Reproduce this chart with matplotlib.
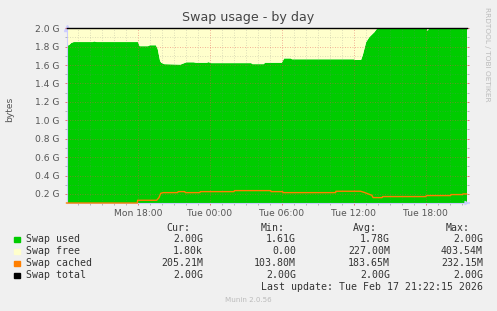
import matplotlib
matplotlib.use('Agg')
import matplotlib.pyplot as plt
from matplotlib.patches import Rectangle

# hours counted from Mon 00:00, values in GiB
used_hours = [12.04, 12.2, 12.4, 12.6, 14.2, 14.3, 14.5, 17.95, 18.1, 18.8, 18.95,
              19.45, 19.6, 19.8, 19.9, 20.15, 21.5, 22.0, 22.6, 22.8, 23.7, 23.85,
              24.05, 27.4, 27.5, 28.45, 28.55, 29.95, 30.15, 30.7, 30.8, 36.0, 36.05,
              36.56, 36.7, 36.98, 37.25, 37.67, 37.89, 42.05, 42.12, 42.2, 45.39]
used = [1.82, 1.82, 1.845, 1.855, 1.855, 1.862, 1.855, 1.855, 1.81, 1.81, 1.82,
        1.82, 1.78, 1.65, 1.63, 1.615, 1.61, 1.635, 1.635, 1.63, 1.63, 1.637,
        1.626, 1.626, 1.615, 1.615, 1.63, 1.63, 1.677, 1.677, 1.668, 1.668, 1.661,
        1.661, 1.71, 1.853, 1.908, 1.962, 2.0, 2.0, 1.975, 2.0, 2.0]

cached_hours = [12.04, 17.95, 17.97, 19.56, 19.75, 19.9, 20.1, 21.3, 21.35, 21.9,
                21.95, 23.15, 23.2, 26.0, 26.05, 29.06, 29.1, 30.06, 30.1, 34.48,
                34.5, 36.56, 36.9, 37.2, 37.5, 37.6, 38.35, 38.4, 42.0, 42.05, 44.06,
                44.1, 45.05, 45.1, 45.39]
cached = [0.1014, 0.1014, 0.131, 0.131, 0.16, 0.207, 0.214, 0.214, 0.225, 0.225,
          0.214, 0.214, 0.225, 0.225, 0.236, 0.236, 0.225, 0.225, 0.214, 0.214,
          0.229, 0.229, 0.215, 0.2, 0.185, 0.16, 0.16, 0.171, 0.171, 0.182, 0.182,
          0.193, 0.193, 0.2, 0.2]

total_hours = [12.04, 45.39]
total = [2.0, 2.0]

x_ticks = [18, 24, 30, 36, 42]
x_labels = ['Mon 18:00', 'Tue 00:00', 'Tue 06:00', 'Tue 12:00', 'Tue 18:00']
y_ticks = [0.2, 0.4, 0.6, 0.8, 1.0, 1.2, 1.4, 1.6, 1.8, 2.0]

legend_names = ['Swap used', 'Swap free', 'Swap cached', 'Swap total']
legend_colors = ['#00CC00', '#FFFFCC', '#FF7F00', '#000000']
cur = ['2.00G', '1.80k', '205.21M', '2.00G']
mins = ['1.61G', '0.00', '103.80M', '2.00G']
avg = ['1.78G', '227.00M', '183.65M', '2.00G']
maxs = ['2.00G', '403.54M', '232.15M', '2.00G']

W, H = 497, 311


def fx(x):
    return x / W


def fy(y):
    return 1 - y / H


fig = plt.figure(figsize=(W / 100, H / 100), dpi=100)
fig.patch.set_facecolor('#F0F0F0')
ax = fig.add_axes([fx(66.5), fy(203), 400 / W, (203 - 28.2) / H])

xmin, xmax = 12.04, 45.39
ymin, ymax = 0.1014, 2.0
ax.set_xlim(xmin, xmax)
ax.set_ylim(ymin, ymax)

ax.fill_between(used_hours, ymin, used, color='#00CC00', lw=0, zorder=1)
ax.fill_between(used_hours, used, 2.0, color='#FFFFCC', lw=0, zorder=1)
ax.plot(cached_hours, cached, color='#FF7F00', lw=1.0, zorder=4, clip_on=False)
ax.plot(total_hours, total, color='black', lw=1.0, zorder=4, clip_on=False)

# grid on top, rrdtool style
for h in range(13, 46):
    if h % 6 == 0:
        ax.axvline(h, color='#E05050', alpha=0.6, lw=0.6, ls=(0, (1, 2)), zorder=3)
    else:
        ax.axvline(h, color='#808080', alpha=0.35, lw=0.6, ls=(0, (1, 2)), zorder=3)
for i in range(2, 20):
    v = i / 10
    if i % 2 == 0:
        ax.axhline(v, color='#E05050', alpha=0.6, lw=0.6, ls=(0, (1, 2)), zorder=3)
    else:
        ax.axhline(v, color='#808080', alpha=0.35, lw=0.6, ls=(0, (1, 2)), zorder=3)

ax.set_xticks(x_ticks)
ax.set_xticklabels(x_labels)
ax.set_xticks(range(13, 46), minor=True)
ax.set_yticks(y_ticks)
ax.set_yticklabels(['%.1f G' % v for v in y_ticks])
ax.set_yticks([i / 10 for i in range(3, 20, 2)], minor=True)

ax.tick_params(which='both', direction='out', length=1.6, width=0.6,
               labelsize=6.6, labelcolor='#555555', right=True)
ax.tick_params(which='major', color='#E06060')
ax.tick_params(which='minor', color='#AAAAAA')
ax.tick_params(axis='y', pad=3.5)
ax.tick_params(axis='x', pad=2.5)

for s in ['top', 'right']:
    ax.spines[s].set_visible(False)
for s in ['left', 'bottom']:
    ax.spines[s].set_color('#CCCCFF')
    ax.spines[s].set_linewidth(0.8)
ax.plot([xmin], [2.0], marker='^', color='#CCCCFF', ms=4, clip_on=False,
        transform=ax.transData, zorder=0)
ax.annotate('', xy=(xmax + 0.25, ymin), xytext=(xmax, ymin),
            arrowprops=dict(arrowstyle='-|>', color='#CCCCFF', lw=0.8,
                            mutation_scale=6), annotation_clip=False)

fig.text(fx(10), fy(109), 'bytes', rotation=90, ha='center', va='center',
         fontsize=6.6, color='#555555')

fig.text(fx(248.5), fy(18), 'Swap usage - by day', ha='center', va='center',
         fontsize=9.1, color='#444444')
fig.text(fx(487), fy(54), 'RRDTOOL / TOBI OETIKER', rotation=270, ha='center',
         va='center', fontsize=5.3, color='#BBBBBB')
fig.text(fx(248.5), fy(300), 'Munin 2.0.56', ha='center', va='center',
         fontsize=5.1, color='#BBBBBB')

mono = dict(family='DejaVu Sans Mono', fontsize=7.15, color='#333333', va='center')
col_right = [203, 296, 390, 483]
head_right = [190, 285, 377, 470]
for name, r in zip(['Cur:', 'Min:', 'Avg:', 'Max:'], head_right):
    fig.text(fx(r), fy(228.3), name, ha='right', **mono)

for i, name in enumerate(legend_names):
    yc = 239.5 + 12 * i
    fig.patches.append(Rectangle((fx(14), fy(yc + 2.7)), 6 / W, 5.4 / H,
                                 transform=fig.transFigure, color=legend_colors[i],
                                 figure=fig))
    fig.text(fx(26.5), fy(yc), name, ha='left', **mono)
    for vals, r in zip([cur, mins, avg, maxs], col_right):
        fig.text(fx(r), fy(yc), vals[i], ha='right', **mono)

fig.text(fx(483), fy(287.3), 'Last update: Tue Feb 17 21:22:15 2026', ha='right', **mono)

fig.savefig('out.png', dpi=100, facecolor=fig.get_facecolor())
